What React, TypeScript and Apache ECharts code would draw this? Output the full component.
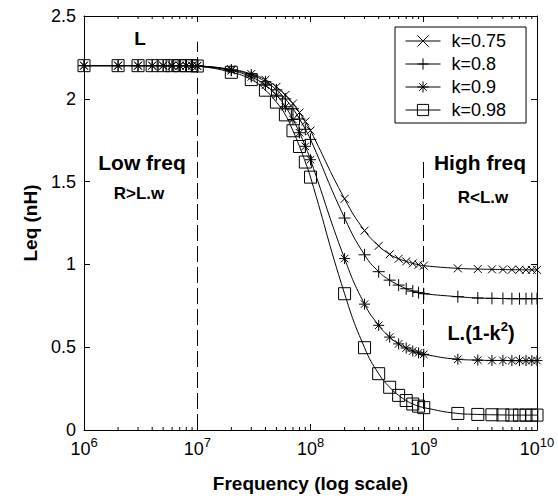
import React, { useEffect, useRef } from "react";
import * as echarts from "echarts";

// ---- data ----
const freqs = [
  1e6, 2e6, 3e6, 4e6, 5e6, 6e6, 7e6, 8e6, 9e6,
  1e7, 2e7, 3e7, 4e7, 5e7, 6e7, 7e7, 8e7, 9e7,
  1e8, 2e8, 3e8, 4e8, 5e8, 6e8, 7e8, 8e8, 9e8,
  1e9, 2e9, 3e9, 4e9, 5e9, 6e9, 7e9, 8e9, 9e9,
  1e10,
];
const seriesNames = ["k=0.75", "k=0.8", "k=0.9", "k=0.98"];
const leqK075 = [
  2.2, 2.2, 2.2, 2.2, 2.2, 2.2, 2.2, 2.2, 2.2,
  2.199, 2.178, 2.15, 2.115, 2.072, 2.023, 1.971, 1.917, 1.863,
  1.808, 1.396, 1.204, 1.112, 1.061, 1.034, 1.018, 1.006, 0.998,
  0.992, 0.976, 0.972, 0.97, 0.969, 0.968, 0.968, 0.967, 0.967,
  0.967,
];
const leqK080 = [
  2.2, 2.2, 2.2, 2.2, 2.2, 2.2, 2.2, 2.2, 2.2,
  2.199, 2.174, 2.144, 2.103, 2.054, 1.999, 1.94, 1.878, 1.816,
  1.755, 1.28, 1.058, 0.956, 0.905, 0.875, 0.853, 0.839, 0.83,
  0.823, 0.805, 0.797, 0.795, 0.794, 0.793, 0.793, 0.793, 0.793,
  0.793,
];
const leqK090 = [
  2.2, 2.2, 2.2, 2.2, 2.2, 2.2, 2.2, 2.2, 2.2,
  2.198, 2.17, 2.132, 2.082, 2.022, 1.952, 1.875, 1.795, 1.713,
  1.632, 1.035, 0.76, 0.632, 0.561, 0.52, 0.495, 0.477, 0.466,
  0.457, 0.427, 0.422, 0.42, 0.42, 0.419, 0.419, 0.419, 0.419,
  0.419,
];
const leqK098 = [
  2.2, 2.2, 2.2, 2.2, 2.2, 2.2, 2.2, 2.2, 2.2,
  2.198, 2.16, 2.116, 2.052, 1.98, 1.903, 1.807, 1.712, 1.618,
  1.527, 0.823, 0.497, 0.34, 0.258, 0.209, 0.178, 0.157, 0.144,
  0.135, 0.1, 0.094, 0.092, 0.091, 0.09, 0.09, 0.09, 0.09,
  0.09,
];
const seriesValues = [leqK075, leqK080, leqK090, leqK098];
// dashed dividers: frequency and top value
const dividerFreqs = [1e7, 1e9];
const dividerTops = [2.345, 1.62];
// minor tick frequencies (2..9 x each decade)
const minorTickFreqs = [
  2e6, 3e6, 4e6, 5e6, 6e6, 7e6, 8e6, 9e6,
  2e7, 3e7, 4e7, 5e7, 6e7, 7e7, 8e7, 9e7,
  2e8, 3e8, 4e8, 5e8, 6e8, 7e8, 8e8, 9e8,
  2e9, 3e9, 4e9, 5e9, 6e9, 7e9, 8e9, 9e9,
];

const FONT = "'Liberation Sans', Arial, Helvetica, sans-serif";
const symbols = [
  "path://M0,0L10,10M10,0L0,10",
  "path://M5,0L5,10M0,5L10,5",
  "path://M5,0L5,10M0,5L10,5M1.6,1.6L8.4,8.4M8.4,1.6L1.6,8.4",
  "path://M0,0L10,0L10,10L0,10Z",
];
const symbolSizes = [8, 12, 11, 12];

export default function App() {
  const ref = useRef<HTMLDivElement>(null);
  useEffect(() => {
    document.body.style.margin = "0";
    const chart = echarts.init(ref.current!, null, { renderer: "svg" });

    const lineSeries: any[] = seriesNames.map((name, si) => ({
      name,
      type: "line",
      data: freqs.map((f, i) => [f, seriesValues[si][i]]),
      symbol: symbols[si],
      symbolSize: symbolSizes[si],
      smooth: 0.5,
      lineStyle: { color: "#000", width: 1 },
      itemStyle: { color: "rgba(0,0,0,0)", borderColor: "#000", borderWidth: 1 },
      emphasis: { disabled: true },
      silent: true,
      z: 3,
    }));
    lineSeries[0].markLine = {
      silent: true,
      symbol: ["none", "none"],
      label: { show: false },
      lineStyle: { color: "#000", width: 1, type: [16, 5] },
      data: dividerFreqs.map((f, i) => [
        { coord: [f, 0] },
        { coord: [f, dividerTops[i]] },
      ]),
    };

    const minorTicks = {
      type: "custom",
      silent: true,
      clip: false,
      z: 5,
      encode: { x: 0, y: 1 },
      data: minorTickFreqs.map((f) => [f, 0]),
      renderItem: (_p: any, api: any) => {
        const f = api.value(0);
        const b = api.coord([f, 0]);
        const t = api.coord([f, 2.5]);
        const st = { stroke: "#000", lineWidth: 1 };
        return {
          type: "group",
          children: [
            { type: "line", shape: { x1: b[0], y1: b[1], x2: b[0], y2: b[1] - 3 }, style: st },
            { type: "line", shape: { x1: t[0], y1: t[1], x2: t[0], y2: t[1] + 3 }, style: st },
          ],
        };
      },
    };

    const xBase = {
      type: "log",
      logBase: 10,
      min: 1e6,
      max: 1e10,
      splitNumber: 4,
      axisLine: { show: true, onZero: false, lineStyle: { color: "#000", width: 1 } },
      axisTick: { show: true, inside: true, length: 6, lineStyle: { color: "#000" } },
      splitLine: { show: false },
      minorTick: { show: false },
    };
    const yBase = {
      type: "value",
      min: 0,
      max: 2.5,
      interval: 0.5,
      axisLine: { show: true, lineStyle: { color: "#000", width: 1 } },
      axisTick: { show: true, inside: true, length: 6, lineStyle: { color: "#000" } },
      splitLine: { show: false },
    };

    chart.setOption({
      animation: false,
      backgroundColor: "#fff",
      textStyle: { fontFamily: FONT, color: "#000" },
      grid: { left: 84, right: 21, top: 16, bottom: 70, outerBoundsMode: "none" },
      xAxis: [
        {
          ...xBase,
          position: "bottom",
          name: "Frequency (log scale)",
          nameLocation: "middle",
          nameGap: 44,
          nameTextStyle: { fontSize: 19, fontWeight: "bold", color: "#000", fontFamily: FONT },
          axisLabel: {
            margin: 6,
            formatter: (v: number) => `{b|10}{s|${Math.round(Math.log10(v))}}`,
            rich: {
              b: { fontSize: 18, lineHeight: 18, padding: [8, 0, 0, 0], color: "#000", fontFamily: FONT },
              s: { fontSize: 13, lineHeight: 13, verticalAlign: "top", color: "#000", fontFamily: FONT },
            },
          },
        },
        { ...xBase, position: "top", axisLabel: { show: false } },
      ],
      yAxis: [
        {
          ...yBase,
          position: "left",
          name: "Leq (nH)",
          nameLocation: "middle",
          nameGap: 44,
          nameTextStyle: { fontSize: 19, fontWeight: "bold", color: "#000", fontFamily: FONT },
          axisLabel: { margin: 8, fontSize: 18, color: "#000", fontFamily: FONT },
        },
        { ...yBase, position: "right", axisLabel: { show: false } },
      ],
      legend: {
        data: seriesNames,
        orient: "vertical",
        left: 395,
        top: 27,
        padding: [5, 20, 4, 10],
        itemGap: 5,
        itemWidth: 35,
        itemHeight: 14,
        borderColor: "#000",
        borderWidth: 1,
        borderRadius: 0,
        backgroundColor: "#fff",
        selectedMode: false,
        itemStyle: { color: "rgba(0,0,0,0)", borderColor: "#000", borderWidth: 1 },
        lineStyle: { color: "#000", width: 1 },
        textStyle: { fontSize: 18, lineHeight: 18, color: "#000", fontFamily: FONT, padding: [0, 0, 0, 6] },
      },
      graphic: [
        { type: "text", x: 140, y: 38, style: { text: "L", font: `bold 19px ${FONT}`, fill: "#000", align: "center", verticalAlign: "middle" } },
        { type: "text", x: 142, y: 162, style: { text: "Low freq", font: `bold 21px ${FONT}`, fill: "#000", align: "center", verticalAlign: "middle" } },
        { type: "text", x: 139, y: 193, style: { text: "R>L.w", font: `bold 17px ${FONT}`, fill: "#000", align: "center", verticalAlign: "middle" } },
        { type: "text", x: 480, y: 162, style: { text: "High freq", font: `bold 21px ${FONT}`, fill: "#000", align: "center", verticalAlign: "middle" } },
        { type: "text", x: 483, y: 197, style: { text: "R<L.w", font: `bold 17px ${FONT}`, fill: "#000", align: "center", verticalAlign: "middle" } },
        {
          type: "text",
          x: 481,
          y: 330,
          style: {
            text: "{a|L.(1-k}{s|2}{a|)}",
            align: "center",
            verticalAlign: "middle",
            rich: {
              a: { fontSize: 20, fontWeight: "bold", fontFamily: FONT, fill: "#000", lineHeight: 20, padding: [6, 0, 0, 0] },
              s: { fontSize: 13, fontWeight: "bold", fontFamily: FONT, fill: "#000", lineHeight: 13, verticalAlign: "top" },
            },
          },
        },
      ],
      series: [...lineSeries, minorTicks],
    });
    return () => chart.dispose();
  }, []);
  return <div ref={ref} style={{ width: 558, height: 500 }} />;
}
